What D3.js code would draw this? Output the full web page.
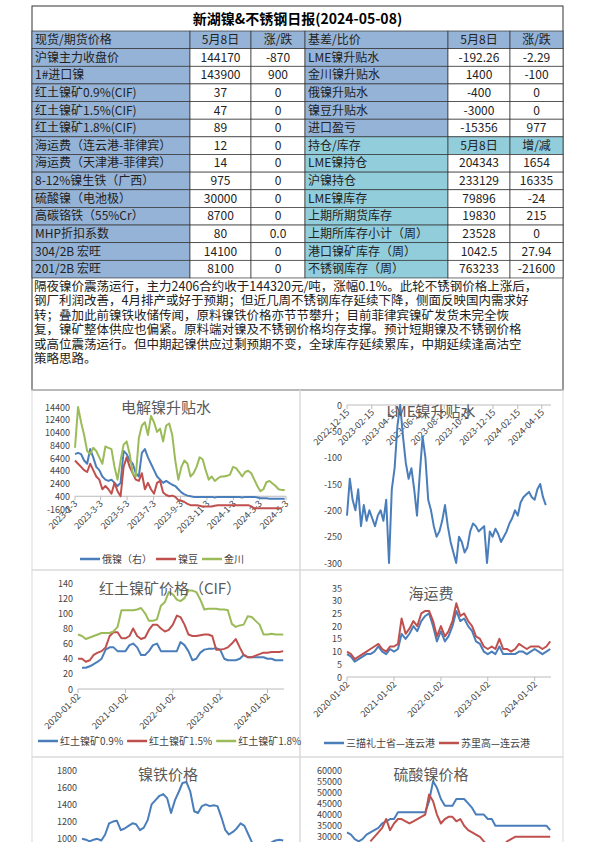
<!DOCTYPE html>
<html><head><meta charset="utf-8">
<script src="https://cdn.jsdelivr.net/npm/d3@7"></script>
<style>body{margin:0;background:#fff}svg{display:block}text{font-family:"Noto Sans CJK SC","DejaVu Sans",sans-serif}</style>
</head><body><svg id="page" width="595" height="842"></svg>
<script>
// table data
const leftLabels = ["现货/期货价格","沪镍主力收盘价","1#进口镍","红土镍矿0.9%(CIF)","红土镍矿1.5%(CIF)","红土镍矿1.8%(CIF)","海运费（连云港-菲律宾）","海运费（天津港-菲律宾）","8-12%镍生铁（广西）","硫酸镍（电池极）","高碳铬铁（55%Cr）","MHP折扣系数","304/2B 宏旺","201/2B 宏旺"];
const leftVals = ["5月8日","144170","143900","37","47","89","12","14","975","30000","8700","80","14100","8100"];
const leftChg = ["涨/跌","-870","900","0","0","0","0","0","0","0","0","0.0","0","0"];
const rightLabels = ["基差/比价","LME镍升贴水","金川镍升贴水","俄镍升贴水","镍豆升贴水","进口盈亏","持仓/库存","LME镍持仓","沪镍持仓","LME镍库存","上期所期货库存","上期所库存小计（周）","港口镍矿库存（周）","不锈钢库存（周）"];
const rightVals = ["5月8日","-192.26","1400","-400","-3000","-15356","5月8日","204343","233129","79896","19830","23528","1042.5","763233"];
const rightChg = ["涨/跌","-2.29","-100","0","0","977","增/减","1654","16335","-24","215","0","27.94","-21600"];
const comment = ["隔夜镍价震荡运行，主力2406合约收于144320元/吨，涨幅0.1%。此轮不锈钢价格上涨后，",
"钢厂利润改善，4月排产或好于预期；但近几周不锈钢库存延续下降，侧面反映国内需求好",
"转；叠加此前镍铁收储传闻，原料镍铁价格亦节节攀升；目前菲律宾镍矿发货未完全恢",
"复，镍矿整体供应也偏紧。原料端对镍及不锈钢价格均存支撑。预计短期镍及不锈钢价格",
"或高位震荡运行。但中期起镍供应过剩预期不变，全球库存延续累库，中期延续逢高沽空",
"策略思路。"];

// chart 1: 电解镍升贴水 weekly from 2023-01-03
const premRussian = [7000,7200,7000,6000,5500,7800,6500,5000,4500,3500,3000,2800,3000,2500,2000,2500,7500,7000,6000,5500,4000,3500,7200,7800,6500,5500,4500,3500,3000,2500,2800,2500,2200,2000,1500,1000,700,500,400,300,300,300,300,300,300,300,200,300,300,300,300,300,300,300,300,200,300,300,300,300,200,100,100,100,0,0,0,0,0,0];
const premBean = [6000,5500,5000,4500,4200,5500,4500,3500,3000,1500,2000,1500,800,2500,1200,400,5000,6500,5000,4000,3000,2800,4000,1500,2500,1500,800,2500,2800,1000,600,400,500,300,-200,-300,-500,-800,-1000,-1000,-1000,-1100,-1200,-1200,-1200,-1200,-1100,-1000,-1000,-1000,-1000,-1000,-1000,-1000,-1000,-1000,-1000,-1000,-1200,-1500,-1500,-1500,-1500,-1500,-1500,-1500,-1500,-1500,-1500,null];
const premJinchuan = [8000,14400,12000,10000,7500,7000,8000,7500,6500,5500,8200,8000,7800,5000,3000,6000,8500,9000,7000,4000,3500,9500,11500,12000,10000,13000,12000,10500,11000,9000,11500,11800,10000,6000,3000,5000,6000,5500,3500,4000,5000,6500,6200,4500,3000,3500,2800,3200,3500,3500,3600,3800,5000,4800,4200,3500,4200,4400,4000,3000,2000,1200,1500,2600,2800,2400,2000,1500,1400,1400];
const premTicks = ["2023-1-3","2023-3-3","2023-5-3","2023-7-3","2023-9-3","2023-11-3","2024-1-3","2024-3-3","2024-5-3"];

// chart 2: LME weekly from 2022-12-15
const lmePrem = [-210,-140,-180,-200,-160,-230,-190,-220,-200,-215,-230,-210,-200,-220,-180,-300,-160,-120,-40,0,-60,-110,-140,-120,-160,-210,-130,-60,-100,-180,-200,-230,-250,-240,-220,-190,-230,-260,-280,-300,-250,-260,-280,-270,-240,-225,-230,-240,-235,-230,-300,-240,-250,-235,-245,-260,-250,-240,-225,-215,-200,-210,-185,-175,-170,-165,-175,-180,-160,-150,-175,-190];
const lmeTicks = ["2022-12-15","2023-02-15","2023-04-15","2023-06-15","2023-08-15","2023-10-15","2023-12-15","2024-02-15","2024-04-15"];

// monthly series from 2020-01
const yearTicks = ["2020-01-02","2021-01-02","2022-01-02","2023-01-02","2024-01-02"];
const ore09 = [null,28,28,30,33,36,40,52,55,55,50,50,50,58,60,55,45,45,50,58,60,50,50,50,50,50,62,58,50,38,40,48,52,53,53,54,52,40,38,38,38,40,45,42,42,42,42,42,40,40,38,38,38];
const ore15 = [40,40,36,38,45,48,50,55,70,75,75,67,67,70,80,70,66,68,78,85,85,80,76,78,85,97,95,85,72,70,70,71,72,72,70,52,52,53,55,60,66,55,45,42,42,44,46,48,48,49,49,49,50];
const ore18 = [72,70,66,68,70,72,74,74,74,76,82,104,104,104,104,105,107,100,90,90,92,110,115,128,125,118,116,120,130,130,128,118,105,106,106,106,105,105,104,86,82,84,85,96,95,90,85,72,72,73,72,72,72];
const freightSurigao = [9,8,6,7,8,9,9,10,12,10,9,11,10,11,17,15,17,20,18,22,24,25,20,14,18,14,16,20,26,22,23,20,18,14,13,10,9,10,9,12,9,9,9,9,10,10,9,10,11,10,9,10,11];
const freightSurigaoRed = [10,9,7,8,9,10,11,12,13,11,10,12,12,13,23,17,19,22,20,25,26,26,22,16,20,16,18,22,29,24,25,22,20,16,15,12,11,12,11,15,11,11,10,11,13,12,11,12,12,12,11,12,14];
const npiPrice = [1000,990,970,990,1000,980,1050,1180,1200,1210,1100,1120,1150,1180,1170,1100,1130,1220,1400,1450,1500,1520,1470,1300,1450,1550,1650,1660,1550,1320,1300,1380,1400,1380,1390,1380,1250,1100,1050,1080,1120,1180,1150,1050,950,920,940,950,930,960,980,990,980];
const sulfateA = [32000,31000,29000,28000,29000,31000,32000,33000,34000,36000,37000,38000,38000,41000,41000,41000,41000,41000,41000,41000,41000,46000,55000,52000,47000,44000,44000,44000,47000,47000,47000,45000,43000,40000,40000,40000,38000,38000,35000,35000,35000,35000,35000,35000,35000,35000,35000,35000,35000,35000,35000,35000,33000];
const sulfateB = [null,null,null,null,null,null,28000,30000,32000,34000,38000,33000,36000,38000,38000,37000,36000,37000,38000,39000,40000,49000,46000,40000,36000,38000,39000,39000,37000,38000,35000,33000,32000,31000,30000,28000,26000,24000,22000,24000,26000,28000,29000,30000,30000,30000,30000,30000,30000,30000,30000,30000,30000];

const BLUE = "#4a7ebb", RED = "#c0504d", GREEN = "#9bbb59";
const svg = d3.select("#page");
const L = 32, R = 563;

// ---- header + table ----
svg.append("rect").attr("x", L).attr("y", 6).attr("width", R - L).attr("height", 384).attr("fill", "#fff").attr("stroke", "#333");
svg.append("text").attr("x", (L + R) / 2).attr("y", 24).attr("text-anchor", "middle").attr("font-size", 14).attr("font-weight", "bold").text("新湖镍&不锈钢日报(2024-05-08)");

const colX = [32, 190, 251, 305, 448, 510, 563];
const rowY = d3.range(15).map(i => 31 + i * 17.64);
const cells = [];
leftLabels.forEach((_, i) => {
  const teal = i >= 6;
  cells.push({c: 0, r: i, t: leftLabels[i], fill: "#95b3d7", left: true});
  cells.push({c: 1, r: i, t: leftVals[i], fill: i == 0 ? "#95b3d7" : "#fff"});
  cells.push({c: 2, r: i, t: leftChg[i], fill: i == 0 ? "#95b3d7" : "#fff"});
  cells.push({c: 3, r: i, t: rightLabels[i], fill: teal ? "#92cddc" : "#95b3d7", left: true});
  cells.push({c: 4, r: i, t: rightVals[i], fill: i == 0 ? "#95b3d7" : (i == 6 ? "#92cddc" : "#fff")});
  cells.push({c: 5, r: i, t: rightChg[i], fill: i == 0 ? "#95b3d7" : (i == 6 ? "#92cddc" : "#fff")});
});
const cg = svg.append("g").selectAll("g").data(cells).enter().append("g");
cg.append("rect").attr("x", d => colX[d.c]).attr("y", d => rowY[d.r])
  .attr("width", d => colX[d.c + 1] - colX[d.c]).attr("height", 17.64)
  .attr("fill", d => d.fill).attr("stroke", "#333").attr("stroke-width", 0.7);
cg.append("text").attr("x", d => d.left ? colX[d.c] + 3 : (colX[d.c] + colX[d.c + 1]) / 2)
  .attr("y", d => rowY[d.r] + 13).attr("text-anchor", d => d.left ? "start" : "middle")
  .attr("font-size", 12).attr("fill", "#222").text(d => d.t);

svg.append("g").selectAll("text").data(comment).enter().append("text")
  .attr("x", 34).attr("y", (d, i) => 291 + i * 14.4).attr("font-size", 12.5).attr("fill", "#222").text(d => d);

// ---- chart panels ----
const panels = [[32, 390, 268, 180], [300, 390, 263, 180], [32, 570, 268, 187], [300, 570, 263, 187], [32, 757, 268, 100], [300, 757, 263, 100]];
svg.append("g").selectAll("rect").data(panels).enter().append("rect")
  .attr("x", d => d[0]).attr("y", d => d[1]).attr("width", d => d[2]).attr("height", d => d[3])
  .attr("fill", "none").attr("stroke", "#d9d9d9");

const parse = d3.timeParse("%Y-%m-%d");
const weekly = (start, n) => d3.range(n).map(i => d3.timeDay.offset(parse(start), i * 7));
const monthly = n => d3.range(n).map(i => d3.timeMonth.offset(parse("2020-01-02"), i));

function chart(o) {
  const g = svg.append("g");
  const x = d3.scaleTime().domain(o.xdom).range([o.x0, o.x1]);
  const y = d3.scaleLinear().domain(o.ydom).range([o.y1, o.y0]);
  g.selectAll(".yt").data(o.yticks).enter().append("text")
    .attr("x", o.x0 - 5).attr("y", d => y(d) + 3.5).attr("text-anchor", "end")
    .attr("font-size", 9).attr("fill", "#444").text(d => d);
  const ay = o.axisY !== undefined ? y(o.axisY) : o.y1;
  g.append("line").attr("x1", o.x0).attr("x2", o.x1).attr("y1", ay).attr("y2", ay).attr("stroke", "#bbb");
  g.selectAll(".xt").data(o.xticks).enter().append("line")
    .attr("x1", d => x(parse(d))).attr("x2", d => x(parse(d))).attr("y1", ay).attr("y2", ay + 4).attr("stroke", "#bbb");
  g.selectAll(".xl").data(o.xticks).enter().append("text")
    .attr("transform", d => `translate(${x(parse(d)) + 3},${ay + 8}) rotate(-45)`)
    .attr("text-anchor", "end").attr("font-size", 9).attr("fill", "#444").text(d => d);
  o.series.forEach(s => {
    const line = d3.line().defined(v => v != null).x((v, i) => x(s.dates[i])).y(v => y(v));
    g.append("path").datum(s.values).attr("d", line).attr("fill", "none")
      .attr("stroke", s.color).attr("stroke-width", 2).attr("stroke-linejoin", "round");
  });
  g.append("text").attr("x", o.tx).attr("y", o.ty).attr("text-anchor", "middle")
    .attr("font-size", 15).attr("fill", "#595959").text(o.title);
  if (o.legend) {
    let lx = o.legend.x;
    o.series.forEach(s => {
      g.append("line").attr("x1", lx).attr("x2", lx + 20).attr("y1", o.legend.y).attr("y2", o.legend.y)
        .attr("stroke", s.color).attr("stroke-width", 2.5);
      const t = g.append("text").attr("x", lx + 22).attr("y", o.legend.y + 4).attr("font-size", 10).attr("fill", "#444").text(s.name);
      lx += 22 + t.node().getComputedTextLength() + 4;
    });
  }
}

const w1 = weekly("2023-01-03", 70);
chart({x0: 75, x1: 286, y0: 407, y1: 509, ydom: [-1600, 14400], yticks: d3.range(-1600, 14401, 2000),
  xdom: [parse("2023-01-03"), parse("2024-05-03")], xticks: premTicks, axisY: 400,
  title: "电解镍升贴水", tx: 166, ty: 413, legend: {x: 80, y: 559},
  series: [{name: "俄镍（右）", values: premRussian, dates: w1, color: BLUE},
           {name: "镍豆", values: premBean, dates: w1, color: RED},
           {name: "金川", values: premJinchuan, dates: w1, color: GREEN}]});

const w2 = weekly("2022-12-15", lmePrem.length);
chart({x0: 347, x1: 551, y0: 405, y1: 563, ydom: [-300, 0], yticks: d3.range(-300, 1, 50),
  xdom: [parse("2022-12-15"), parse("2024-05-08")], xticks: lmeTicks, axisY: 0,
  title: "LME镍升贴水", tx: 431, ty: 417,
  series: [{name: "LME", values: lmePrem, dates: w2, color: BLUE}]});

const m = monthly(53);
const mdom = [parse("2020-01-02"), parse("2024-05-08")];
chart({x0: 78, x1: 284, y0: 583, y1: 689, ydom: [0, 140], yticks: d3.range(0, 141, 20),
  xdom: mdom, xticks: yearTicks, title: "红土镍矿价格（CIF）", tx: 170, ty: 594, legend: {x: 38, y: 741},
  series: [{name: "红土镍矿0.9%", values: ore09, dates: m, color: BLUE},
           {name: "红土镍矿1.5%", values: ore15, dates: m, color: RED},
           {name: "红土镍矿1.8%", values: ore18, dates: m, color: GREEN}]});

chart({x0: 347, x1: 551, y0: 588, y1: 677, ydom: [0, 35], yticks: d3.range(0, 36, 5),
  xdom: mdom, xticks: yearTicks, title: "海运费", tx: 431, ty: 599, legend: {x: 324, y: 743},
  series: [{name: "三描礼士省—连云港", values: freightSurigao, dates: m, color: BLUE},
           {name: "苏里高—连云港", values: freightSurigaoRed, dates: m, color: RED}]});

chart({x0: 82, x1: 284, y0: 770, y1: 856, ydom: [800, 1800], yticks: [1000, 1200, 1400, 1600, 1800],
  xdom: mdom, xticks: [], title: "镍铁价格", tx: 168, ty: 780,
  series: [{name: "镍铁", values: npiPrice, dates: m, color: BLUE}]});

chart({x0: 347, x1: 551, y0: 770, y1: 848, ydom: [25000, 60000], yticks: [30000, 35000, 40000, 45000, 50000, 55000, 60000],
  xdom: mdom, xticks: [], title: "硫酸镍价格", tx: 431, ty: 780,
  series: [{name: "A", values: sulfateA, dates: m, color: BLUE},
           {name: "B", values: sulfateB, dates: m, color: RED}]});
</script></body></html>
